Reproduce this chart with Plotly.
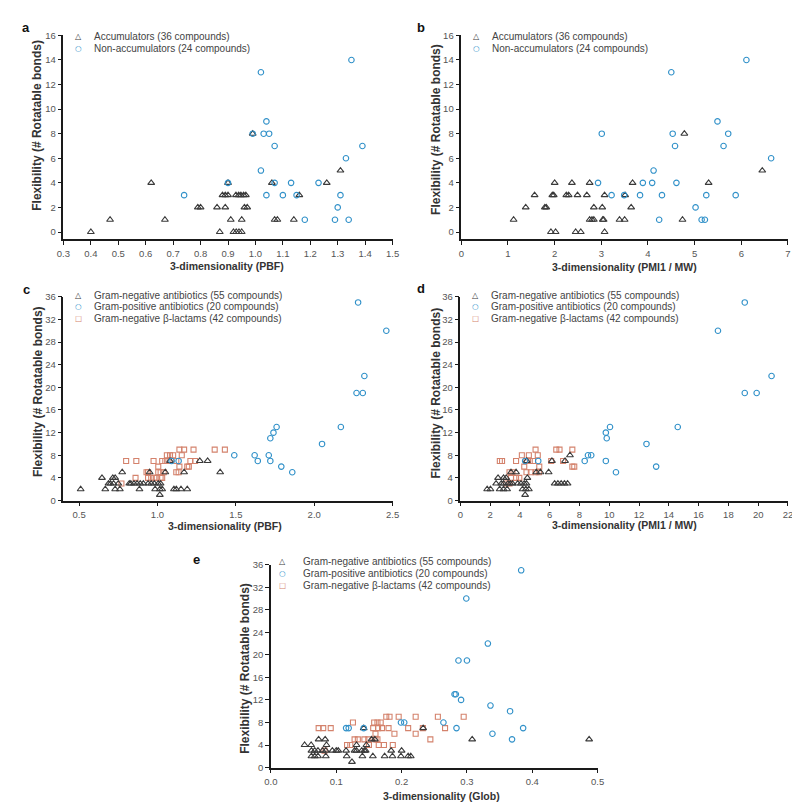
import plotly.graph_objects as go

# ---------------- data ----------------
# Panel a: 3-dimensionality (PBF) vs flexibility
a_acc_x = [0.40, 0.87, 0.92, 0.93, 0.94, 0.95,
           0.47, 0.67, 0.91, 0.95, 1.07, 1.08, 1.14,
           0.79, 0.80, 0.86, 0.89, 0.96, 0.97,
           0.88, 0.89, 0.90, 0.929, 0.939, 0.947, 0.957, 0.965, 1.16,
           0.62, 0.90, 1.06, 1.26, 1.31, 0.99]
a_acc_y = [0, 0, 0, 0, 0, 0,
           1, 1, 1, 1, 1, 1, 1,
           2, 2, 2, 2, 2, 2,
           3, 3, 3, 3, 3, 3, 3, 3, 3,
           4, 4, 4, 4, 5, 8]
a_non_x = [0.74, 0.90, 0.99, 1.02, 1.02, 1.03, 1.05, 1.04, 1.07, 1.04, 1.07, 1.10,
           1.13, 1.15, 1.18, 1.23, 1.29, 1.30, 1.31, 1.33, 1.34, 1.35, 1.39]
a_non_y = [3, 4, 8, 13, 5, 8, 8, 9, 7, 3, 4, 3,
           4, 3, 1, 4, 1, 2, 3, 6, 1, 14, 7]

# Panel b: 3-dimensionality (PMI1 / MW) vs flexibility
b_acc_x = [1.12, 1.38, 1.57, 1.79, 1.82, 1.95, 1.98, 2.00, 1.92, 2.02,
           2.25, 2.30, 2.37, 2.49, 2.45, 2.56, 2.69, 2.75, 2.75, 2.80,
           2.84, 2.84, 3.02, 3.03, 3.05, 3.07, 3.07, 3.39, 3.50, 3.51,
           3.64, 3.67, 4.74, 4.78, 5.30, 6.45]
b_acc_y = [1, 2, 3, 2, 2, 3, 3, 4, 0, 0,
           3, 3, 4, 3, 0, 0, 3, 4, 1, 1,
           1, 2, 2, 1, 1, 3, 0, 1, 1, 3,
           2, 4, 1, 8, 4, 5]
b_non_x = [2.93, 3.01, 3.22, 3.49, 3.83, 3.89, 4.09, 4.12, 4.24, 4.30, 4.50, 4.53,
           4.58, 4.61, 5.02, 5.15, 5.22, 5.25, 5.49, 5.62, 5.72, 5.88, 6.11, 6.64]
b_non_y = [4, 8, 3, 3, 3, 4, 4, 5, 1, 3, 13, 8,
           7, 4, 2, 1, 1, 3, 9, 7, 8, 3, 14, 6]

# Panel c: PBF, antibiotics
c_gneg_x = [0.51, 0.646, 0.667, 0.6875, 0.70, 0.715, 0.73, 0.72, 0.73, 0.76,
            0.75, 0.775, 0.82, 0.83, 0.85, 0.87, 0.89, 0.91, 0.94, 0.885,
            0.95, 0.96, 0.98, 0.985, 1.015, 1.005, 1.02, 1.015, 1.03, 1.05,
            1.08, 1.105, 1.12, 1.15, 1.17, 1.19, 1.27, 1.32, 1.40]
c_gneg_y = [2, 4, 2, 3, 3, 4, 4, 3, 2, 2,
            3, 5, 3, 3, 3, 3, 3, 3, 3, 2,
            5, 3, 3, 2, 2, 3, 3, 1, 2, 5,
            7, 2, 2, 2, 5, 2, 7, 7, 5]
c_gpos_x = [1.49, 1.62, 1.64, 1.71, 1.72, 1.72, 1.74, 1.76, 1.79, 1.86,
            2.05, 2.17, 2.27, 2.31, 2.32, 2.28, 2.46, 1.09, 1.135]
c_gpos_y = [8, 8, 7, 8, 7, 11, 12, 13, 6, 5,
            10, 13, 19, 19, 22, 35, 30, 7, 7]
c_blac_x = [0.80, 0.865, 0.77, 0.86, 0.93, 0.94, 0.94, 0.96, 0.98, 0.975,
            1.005, 1.005, 1.02, 1.04, 0.995, 1.02, 1.03, 1.03, 1.05, 1.07,
            1.06, 1.08, 1.10, 1.12, 1.14, 1.17, 1.155, 1.14, 1.12, 1.135,
            1.19, 1.20, 1.21, 1.24, 1.23, 1.365, 1.43]
c_blac_y = [7, 7, 3, 4, 5, 5, 4, 4, 4, 7,
            6, 5, 5, 5, 4, 4, 4, 7, 7, 7,
            8, 8, 8, 7, 9, 9, 8, 6, 5, 5,
            6, 6, 7, 7, 9, 9, 9]

# Panel d: PMI1 / MW, antibiotics
d_gneg_x = [1.80, 2.02, 2.64, 2.90, 3.14, 2.40, 2.75, 2.90, 3.50, 3.85,
            4.07, 2.53, 2.90, 3.08, 3.40, 3.74, 4.18, 4.40, 4.60, 4.35,
            4.29, 4.44, 4.50, 5.38, 5.93, 4.46, 6.15, 7.03, 7.36, 6.33,
            6.55, 6.77, 6.99, 7.20, 3.20, 3.35, 5.10]
d_gneg_y = [2, 2, 2, 2, 2, 3, 3, 3, 3, 3,
            3, 4, 4, 4, 5, 5, 2, 2, 2, 1,
            3, 3, 4, 5, 5, 7, 7, 7, 8, 3,
            3, 3, 3, 3, 3, 3, 5]
d_gpos_x = [19.1, 17.3, 20.9, 19.1, 19.9, 14.6, 10.05, 9.77, 9.83, 12.5,
            8.35, 8.57, 8.79, 9.77, 10.45, 13.15, 4.35, 5.23]
d_gpos_y = [35, 30, 22, 19, 19, 13, 13, 12, 11, 10,
            7, 8, 8, 7, 5, 6, 7, 7]
d_blac_x = [2.65, 2.80, 3.74, 4.13, 4.44, 4.66, 4.88, 5.05, 4.60, 5.20,
            4.29, 5.30, 4.44, 4.73, 5.05, 5.27, 3.30, 3.50, 3.40, 3.74,
            3.96, 3.08, 3.30, 6.44, 6.66, 7.52, 7.52, 7.65, 6.10, 6.90]
d_blac_y = [7, 7, 7, 8, 7, 7, 7, 9, 8, 8,
            6, 6, 5, 5, 5, 5, 5, 5, 4, 4,
            4, 3, 3, 9, 9, 9, 6, 6, 7, 7]

# Panel e: Glob, antibiotics
e_gneg_x = [0.0515, 0.0615, 0.062, 0.067, 0.072, 0.062, 0.067, 0.072, 0.073, 0.083,
            0.085, 0.079, 0.084, 0.084, 0.094, 0.100, 0.103, 0.115, 0.128, 0.131,
            0.116, 0.124, 0.131, 0.139, 0.143, 0.145, 0.140, 0.146, 0.156, 0.154,
            0.159, 0.174, 0.184, 0.186, 0.200, 0.199, 0.210, 0.214, 0.233, 0.308,
            0.487, 0.142]
e_gneg_y = [4, 4, 3, 3, 3, 2, 2, 2, 5, 5,
            4, 3, 3, 2, 3, 3, 3, 3, 3, 3,
            2, 1, 4, 3, 3, 3, 2, 4, 2, 5,
            5, 2, 3, 2, 3, 2, 2, 2, 7, 5,
            5, 7]
e_gpos_x = [0.383, 0.299, 0.332, 0.287, 0.300, 0.281, 0.283, 0.291, 0.336, 0.366,
            0.264, 0.284, 0.386, 0.339, 0.369, 0.115, 0.119, 0.142, 0.199, 0.204]
e_gpos_y = [35, 30, 22, 19, 19, 13, 13, 12, 11, 10,
            8, 7, 7, 6, 5, 7, 7, 7, 8, 8]
e_blac_x = [0.073, 0.080, 0.0915, 0.082, 0.1255, 0.1165, 0.1215, 0.128, 0.133, 0.143,
            0.149, 0.150, 0.1565, 0.164, 0.170, 0.158, 0.163, 0.168, 0.160, 0.160,
            0.163, 0.165, 0.173, 0.1765, 0.1815, 0.180, 0.189, 0.1865, 0.1955, 0.210,
            0.2215, 0.2215, 0.2325, 0.244, 0.2555, 0.2665, 0.295]
e_blac_y = [7, 7, 7, 3, 8, 4, 4, 5, 5, 5,
            5, 4, 7, 7, 7, 8, 8, 8, 6, 5,
            5, 4, 4, 9, 9, 7, 6, 4, 9, 7,
            9, 6, 7, 5, 9, 7, 9]

legend_ab = ["Accumulators (36 compounds)", "Non-accumulators (24 compounds)"]
legend_cde = ["Gram-negative antibiotics (55 compounds)",
              "Gram-positive antibiotics (20 compounds)",
              "Gram-negative β-lactams (42 compounds)"]
x_titles = ["3-dimensionality (PBF)", "3-dimensionality (PMI1 / MW)",
            "3-dimensionality (PBF)", "3-dimensionality (PMI1 / MW)",
            "3-dimensionality (Glob)"]
y_title = "Flexibility (# Rotatable bonds)"

# ---------------- styling ----------------
W, H = 800, 804
GRAY, BLUE, RED = "#3a3a3a", "#3191c9", "#d4826c"
STY = {
    "tri": dict(symbol="triangle-up-open", color=GRAY, size=6, glyph="△", gsize=8),
    "cir": dict(symbol="circle-open", color=BLUE, size=5.5, glyph="○", gsize=7.5),
    "sq": dict(symbol="square-open", color=RED, size=5, glyph="□", gsize=7.5),
}
FONT = "Liberation Sans, Arial, sans-serif"

def fx(p):
    return p / W

def fy(p):
    return 1 - p / H

fig = go.Figure()

def add(xs, ys, kind, n):
    s = STY[kind]
    fig.add_trace(go.Scatter(
        x=xs, y=ys, mode="markers", xaxis="x" + n, yaxis="y" + n,
        marker=dict(symbol=s["symbol"], size=s["size"], color=s["color"],
                    line=dict(width=1.1, color=s["color"])),
        showlegend=False, hoverinfo="skip"))

add(a_acc_x, a_acc_y, "tri", "")
add(a_non_x, a_non_y, "cir", "")
add(b_acc_x, b_acc_y, "tri", "2")
add(b_non_x, b_non_y, "cir", "2")
add(c_blac_x, c_blac_y, "sq", "3")
add(c_gneg_x, c_gneg_y, "tri", "3")
add(c_gpos_x, c_gpos_y, "cir", "3")
add(d_blac_x, d_blac_y, "sq", "4")
add(d_gneg_x, d_gneg_y, "tri", "4")
add(d_gpos_x, d_gpos_y, "cir", "4")
add(e_blac_x, e_blac_y, "sq", "5")
add(e_gneg_x, e_gneg_y, "tri", "5")
add(e_gpos_x, e_gpos_y, "cir", "5")

def axis(domain, rng, dtick, tick0=0, fmt=None, anchor=None):
    d = dict(domain=domain, range=rng, tickmode="linear", tick0=tick0, dtick=dtick,
             showline=True, linecolor="#1a1a1a", linewidth=1.5,
             ticks="outside", ticklen=4, tickwidth=1.2, tickcolor="#1a1a1a",
             showgrid=False, zeroline=False, fixedrange=True, anchor=anchor,
             tickfont=dict(family=FONT, size=9.5, color="#555555"))
    if fmt:
        d["tickformat"] = fmt
    return d

ya_dom = [fy(228.5), fy(21.7)]
yc_dom = [fy(493.3), fy(286.7)]
ye_dom = [fy(764), fy(558.3)]

layout = dict(
    width=W, height=H, autosize=False,
    margin=dict(l=0, r=0, t=0, b=0, pad=0),
    paper_bgcolor="white", plot_bgcolor="white", showlegend=False,
    xaxis=axis([fx(49.3), fx(384.3)], [0.3, 1.5], 0.1, 0.3, ".1f", "y"),
    yaxis=axis(ya_dom, [-0.6, 16], 2, 0, None, "x"),
    xaxis2=axis([fx(454.3), fx(786.7)], [0, 7], 1, 0, None, "y2"),
    yaxis2=axis(ya_dom, [-0.6, 16], 2, 0, None, "x2"),
    xaxis3=axis([fx(49.3), fx(384.3)], [0.4, 2.5], 0.5, 0.5, ".1f", "y3"),
    yaxis3=axis(yc_dom, [0, 36], 4, 0, None, "x3"),
    xaxis4=axis([fx(453.3), fx(786.7)], [0, 22], 2, 0, None, "y4"),
    yaxis4=axis(yc_dom, [0, 36], 4, 0, None, "x4"),
    xaxis5=axis([fx(260.5), fx(593)], [0, 0.5], 0.1, 0, ".1f", "y5"),
    yaxis5=axis(ye_dom, [0, 36], 4, 0, None, "x5"),
)
fig.update_layout(**layout)

ann = []
def text(x, y, t, size, color="#333333", bold=False, xanchor="center", angle=0, family=FONT):
    ann.append(dict(xref="paper", yref="paper", x=fx(x), y=fy(y),
                    text=("<b>%s</b>" % t) if bold else t,
                    showarrow=False, xanchor=xanchor, yanchor="middle", textangle=angle,
                    font=dict(family=family, size=size, color=color), borderpad=0))

# panel letters
for lt, (px, py) in zip("abcde", [(11, 14), (413, 14), (12, 279), (413, 278), (185, 553)]):
    text(px, py, lt, 13, "#111111", True, "center")

# axis titles
for t, (px, py) in zip(x_titles, [(216, 256), (620, 257), (214, 519), (620, 518), (434, 793)]):
    text(px, py, t, 10.5, "#333333", True)
for (px, py) in [(22.7, 113), (429, 117), (22.7, 383), (428.3, 384), (234, 663)]:
    text(px, py, y_title, 12, "#333333", True, angle=-90)

# legends (key glyph + label)
def legend(mx, tx, rows, labels, kinds):
    for ry, lab, k in zip(rows, labels, kinds):
        s = STY[k]
        text(mx, ry, s["glyph"], s["gsize"], s["color"], True, "center", family="DejaVu Sans")
        text(tx, ry, lab, 10, "#444444", False, "left")

legend(65, 79, [23.3, 35], legend_ab, ["tri", "cir"])
legend(469.3, 484.3, [23.3, 35], legend_ab, ["tri", "cir"])
legend(65, 79, [285, 297, 309], legend_cde, ["tri", "cir", "sq"])
legend(469, 483.3, [285, 297, 309], legend_cde, ["tri", "cir", "sq"])
legend(272.7, 291.8, [555, 567, 579], legend_cde, ["tri", "cir", "sq"])

fig.update_layout(annotations=ann)
fig.write_html("out.html")
